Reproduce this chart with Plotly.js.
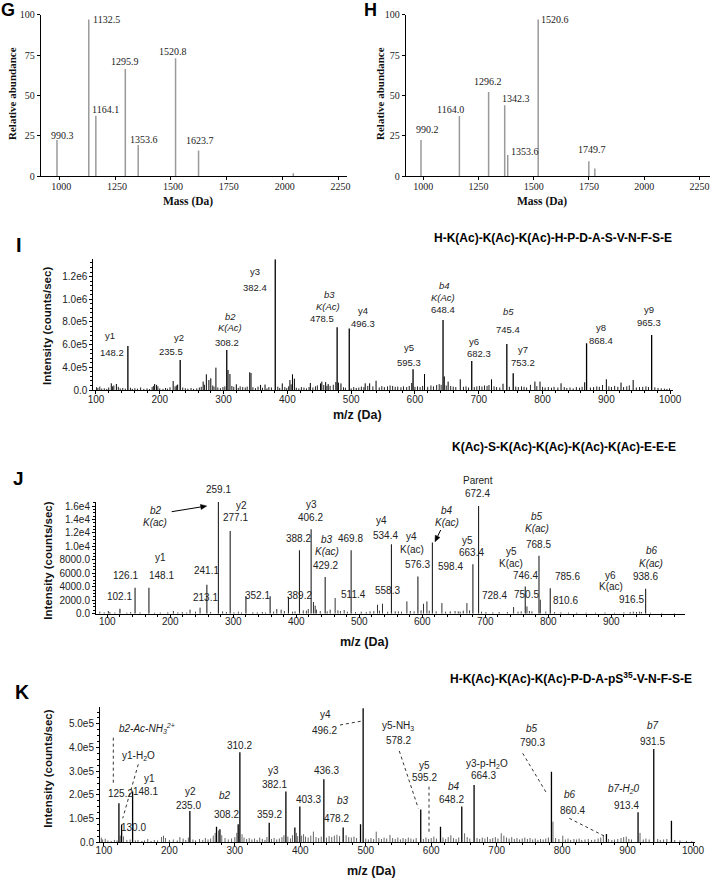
<!DOCTYPE html>
<html><head><meta charset="utf-8">
<script src="https://cdn.plot.ly/plotly-3.0.1.min.js"></script>
<style>html,body{margin:0;padding:0;background:#fff}#chart{width:713px;height:878px}</style>
</head><body><div id="chart"></div>
<script>
// ---------- DATA ----------
// Panel G (relative abundance vs mass)
const gMass = [990.3, 1132.5, 1164.1, 1295.9, 1353.6, 1520.8, 1623.7, 2047.6];
const gAbund = [22.5, 97.1, 37.5, 66.4, 19.4, 73.0, 15.9, 1.9];
const gLabels = ['990.3','1132.5','1164.1','1295.9','1353.6','1520.8','1623.7'];
// Panel H
const hMass = [990.2, 1164.0, 1296.2, 1369.0, 1382.6, 1520.6, 1749.7, 1776.8];
const hAbund = [22.5, 37.3, 52.2, 43.9, 13.2, 97.1, 9.3, 4.9];
const hLabels = ['990.2','1164.0','1296.2','1342.3','1353.6','1520.6','1749.7'];
const massTicks = [1000, 1250, 1500, 1750, 2000, 2250];
const abundTicks = [0, 25, 50, 75, 100];

// Panel I (labelled fragment peaks + minor peaks + baseline noise)
const iMz  = [150, 232, 305, 381, 478, 497, 597, 644, 689, 744, 754, 869, 971];
const iInt = [588e3, 464e3, 552e3, 1352e3, 752e3, 743e3, 382e3, 817e3, 456e3, 605e3, 347e3, 611e3, 685e3];
const iMinor = [[124,259e3],[132,253e3],[192,253e3],[195,245e3],[221,279e3],[228,248e3],[268,274e3],[273,338e3],[277,288e3],[280,303e3],[288,397e3],[307,376e3],[310,341e3],[320,250e3],[341,356e3],[343,350e3],[358,245e3],[365,248e3],[392,258e3],[404,288e3],[408,338e3],[411,300e3],[436,262e3],[452,258e3],[454,274e3],[460,270e3],[464,252e3],[476,270e3],[480,265e3],[484,258e3],[522,259e3],[529,259e3],[539,282e3],[595,262e3],[615,341e3],[646,320e3],[652,274e3],[671,294e3],[720,294e3],[738,255e3],[788,274e3],[796,274e3],[829,259e3],[866,268e3],[900,294e3],[923,265e3],[942,288e3]];
const iNoise = [[101,225e3],[103,218e3],[106,230e3],[109,212e3],[113,215e3],[117,210e3],[120,222e3],[126,232e3],[128,240e3],[135,228e3],[138,214e3],[142,218e3],[146,212e3],[154,220e3],[157,210e3],[161,216e3],[165,212e3],[170,222e3],[175,210e3],[180,214e3],[184,208e3],[188,226e3],[190,236e3],[197,232e3],[200,214e3],[205,210e3],[209,218e3],[212,212e3],[216,224e3],[224,232e3],[226,240e3],[236,222e3],[240,216e3],[244,212e3],[249,218e3],[253,210e3],[258,214e3],[262,222e3],[265,228e3],[270,246e3],[283,240e3],[285,230e3],[291,222e3],[295,216e3],[299,226e3],[302,232e3],[313,236e3],[316,228e3],[323,218e3],[326,232e3],[330,226e3],[334,222e3],[337,230e3],[346,224e3],[350,216e3],[354,230e3],[361,220e3],[368,214e3],[371,226e3],[375,222e3],[385,230e3],[388,218e3],[396,226e3],[399,216e3],[402,232e3],[406,250e3],[414,220e3],[418,214e3],[422,226e3],[426,222e3],[430,214e3],[434,226e3],[440,222e3],[444,232e3],[447,240e3],[457,244e3],[462,236e3],[467,236e3],[472,246e3],[488,224e3],[491,220e3],[500,214e3],[504,226e3],[508,218e3],[512,222e3],[516,230e3],[520,226e3],[526,236e3],[534,232e3],[544,222e3],[548,234e3],[552,226e3],[557,232e3],[561,240e3],[565,236e3],[569,228e3],[573,230e3],[578,224e3],[582,232e3],[587,226e3],[591,236e3],[600,228e3],[604,232e3],[608,226e3],[612,236e3],[620,228e3],[625,240e3],[629,232e3],[634,244e3],[638,252e3],[641,246e3],[649,240e3],[656,236e3],[660,230e3],[664,226e3],[676,228e3],[680,232e3],[684,222e3],[693,226e3],[697,232e3],[701,236e3],[705,230e3],[709,240e3],[713,236e3],[716,244e3],[724,232e3],[728,226e3],[733,222e3],[748,228e3],[758,230e3],[762,226e3],[767,232e3],[771,228e3],[775,222e3],[781,246e3],[791,234e3],[800,228e3],[804,222e3],[809,226e3],[814,220e3],[818,228e3],[824,222e3],[834,226e3],[838,218e3],[843,222e3],[848,214e3],[853,226e3],[858,220e3],[862,228e3],[875,222e3],[880,226e3],[885,232e3],[889,228e3],[894,244e3],[904,232e3],[908,226e3],[913,236e3],[918,228e3],[927,226e3],[932,232e3],[936,240e3],[947,222e3],[952,226e3],[957,228e3],[962,232e3],[966,226e3],[976,224e3],[981,218e3],[986,214e3],[991,212e3],[995,210e3],[999,214e3]];
const iYTickVals = [200e3, 400e3, 600e3, 800e3, 1000e3, 1200e3];
const iYTickText = ['0.0','4.0e5','6.0e5','8.0e5','1.0e6','1.2e6'];

// Panel J
const jMz  = [120, 144, 166, 258, 276.3, 295, 320, 358.4, 387.5, 405, 423.5, 445.8, 487, 551, 593, 616, 680.3, 689.3, 763.4, 785.2, 803.1, 954.5];
const jInt = [745, 3870, 3870, 4300, 16600, 12300, 2600, 2600, 2480, 9420, 12550, 5460, 9420, 10320, 5530, 10570, 7360, 16000, 4050, 8600, 3800, 3700];
const jMinor = [[101.6,400],[204.8,400],[231.3,600],[247.2,900],[369,700],[375.9,600],[427.2,1740],[429.9,1200],[453.7,600],[461.6,2330],[528.9,1330],[536.8,1480],[557,350],[575.5,1830],[601.9,1480],[607.3,1830],[631.1,1580],[644.3,350],[660,300],[665,450],[670.8,1580],[744.9,990],[766.1,1090],[787.3,2070],[940,250],[945,300]];
const jNoise = [[88,300],[95,200],[104,250],[112,180],[131,150],[137,250],[152,200],[175,150],[184,180],[196,220],[212,200],[219,250],[226,180],[240,300],[264,250],[283,350],[289,250],[301,200],[308,300],[313,180],[331,220],[338,200],[346,250],[351,180],[364,300],[381,400],[394,300],[398,350],[411,500],[416,450],[419,700],[432,600],[438,400],[449,350],[466,500],[470,400],[476,550],[481,300],[494,250],[503,300],[511,250],[517,350],[523,400],[532,450],[545,300],[562,350],[567,300],[581,400],[587,350],[598,500],[611,450],[622,350],[637,300],[652,400],[657,350],[675,500],[694,300],[701,250],[712,200],[722,250],[735,250],[752,300],[757,350],[770,400],[774,350],[796,300],[810,250],[820,200],[832,180],[845,150],[860,150],[875,150],[890,180],[905,150],[920,200],[930,250],[935,300],[948,250],[962,150],[980,120],[1000,100]];
const jYTickVals = [0, 2000, 4000, 6000, 8000, 10000, 12000, 14000, 16000];
const jYTickText = ['0.0','2000.0','4000.0','6000.0','8000.0','1.0e4','1.2e4','1.4e4','1.6e4'];

// Panel K
const kMz  = [122.9, 127, 143.8, 231.3, 272, 277.2, 305.1, 307.7, 352.5, 378, 391.7, 399.3, 436, 465.5, 492, 496, 584, 614.2, 646.7, 665.5, 783.7, 867.7, 916, 940, 967];
const kInt = [165e3, 75e3, 214e3, 132e3, 66e3, 55e3, 76e3, 380e3, 83e3, 214e3, 63e3, 151e3, 266e3, 63e3, 76e3, 566e3, 139e3, 66e3, 151e3, 242e3, 298e3, 35e3, 127e3, 394e3, 91e3];
const kNoise = [[96,20e3],[98,12e3],[102,15e3],[106,8e3],[111,6e3],[116,10e3],[120,8e3],[125,28e3],[130,25e3],[135,10e3],[140,12e3],[148,8e3],[152,10e3],[158,6e3],[162,8e3],[167,14e3],[172,6e3],[177,10e3],[182,8e3],[188,22e3],[191,28e3],[194,18e3],[200,10e3],[206,12e3],[212,8e3],[216,22e3],[221,16e3],[225,10e3],[229,20e3],[236,12e3],[240,8e3],[246,14e3],[251,10e3],[255,18e3],[259,12e3],[263,16e3],[267,28e3],[270,40e3],[275,50e3],[280,30e3],[285,18e3],[290,12e3],[295,16e3],[300,22e3],[303,40e3],[311,34e3],[314,20e3],[318,14e3],[322,18e3],[326,12e3],[330,16e3],[334,10e3],[338,20e3],[342,14e3],[346,10e3],[349,22e3],[356,14e3],[360,18e3],[364,12e3],[368,16e3],[372,22e3],[375,30e3],[381,24e3],[385,16e3],[388,30e3],[394,40e3],[396,26e3],[402,28e3],[405,34e3],[408,24e3],[412,20e3],[416,28e3],[420,45e3],[424,22e3],[428,18e3],[432,24e3],[440,20e3],[444,26e3],[448,22e3],[452,28e3],[456,32e3],[460,26e3],[470,30e3],[474,22e3],[478,20e3],[482,24e3],[486,18e3],[500,16e3],[504,12e3],[508,18e3],[512,14e3],[516,45e3],[520,18e3],[524,14e3],[528,20e3],[532,16e3],[537,31e3],[541,18e3],[545,14e3],[549,20e3],[553,12e3],[557,18e3],[561,14e3],[565,20e3],[569,16e3],[573,12e3],[577,18e3],[588,14e3],[592,20e3],[596,14e3],[600,18e3],[604,24e3],[608,16e3],[618,20e3],[622,14e3],[626,22e3],[630,30e3],[634,18e3],[638,14e3],[642,20e3],[651,38e3],[655,22e3],[659,16e3],[670,18e3],[674,14e3],[678,20e3],[682,16e3],[686,22e3],[690,14e3],[694,18e3],[698,22e3],[702,16e3],[707,38e3],[711,28e3],[715,20e3],[719,16e3],[723,22e3],[727,14e3],[731,18e3],[735,12e3],[739,16e3],[743,20e3],[747,14e3],[751,18e3],[755,12e3],[759,16e3],[763,10e3],[767,14e3],[771,12e3],[775,16e3],[779,20e3],[786,87e3],[790,18e3],[795,14e3],[801,28e3],[805,12e3],[809,16e3],[813,10e3],[818,14e3],[822,12e3],[826,16e3],[830,10e3],[835,12e3],[840,14e3],[845,10e3],[850,12e3],[855,16e3],[859,20e3],[863,31e3],[871,14e3],[876,10e3],[880,12e3],[885,14e3],[890,18e3],[894,22e3],[898,24e3],[902,14e3],[906,12e3],[919,40e3],[924,12e3],[928,16e3],[933,12e3],[946,14e3],[950,10e3],[955,12e3],[960,14e3],[972,10e3],[980,8e3],[990,6e3],[998,5e3]];
const kYTickVals = [0, 1e5, 2e5, 3e5, 4e5, 5e5];
const kYTickText = ['0.0','1.0e5','2.0e5','3.0e5','4.0e5','5.0e5'];
const mzTicks = [100,200,300,400,500,600,700,800,900,1000];
const mzTicksJ = [100,200,300,400,500,600,700,800,900];

const titleI = 'H-K(Ac)-K(Ac)-K(Ac)-H-P-D-A-S-V-N-F-S-E';
const titleJ = 'K(Ac)-S-K(Ac)-K(Ac)-K(Ac)-K(Ac)-E-E-E';
const titleK = 'H-K(Ac)-K(Ac)-K(Ac)-P-D-A-pS<sup>35</sup>-V-N-F-S-E';

// ---------- DRAWING ----------
const W = 713, H = 878;
const PX = x => x / W, PY = y => 1 - y / H;
const SANS = 'Liberation Sans, Arial, sans-serif';
const SERIF = 'Liberation Serif, Times New Roman, serif';

function stems(xs, ys) {
  const X = [], Y = [];
  for (let i = 0; i < xs.length; i++) { X.push(xs[i], xs[i], null); Y.push(0, ys[i], null); }
  return {X, Y};
}
function stemTrace(xs, ys, xa, ya, color, width) {
  const s = stems(xs, ys);
  return {type:'scatter', mode:'lines', x:s.X, y:s.Y, xaxis:xa, yaxis:ya,
          line:{color:color, width:width}, hoverinfo:'skip', showlegend:false};
}
const col = (arr, i) => arr.map(p => p[i]);

const traces = [
  stemTrace(gMass, gAbund, 'x', 'y', '#9a9a9a', 1.5),
  stemTrace(hMass, hAbund, 'x2', 'y2', '#9a9a9a', 1.5),
  stemTrace(col(iNoise,0), col(iNoise,1), 'x3', 'y3', '#222', 1),
  stemTrace(col(iMinor,0), col(iMinor,1), 'x3', 'y3', '#000', 1),
  stemTrace(iMz, iInt, 'x3', 'y3', '#000', 1.3),
  stemTrace(col(jNoise,0), col(jNoise,1), 'x4', 'y4', '#444', 1),
  stemTrace(col(jMinor,0), col(jMinor,1), 'x4', 'y4', '#333', 1),
  stemTrace(jMz, jInt, 'x4', 'y4', '#222', 1.1),
  stemTrace(col(kNoise,0), col(kNoise,1), 'x5', 'y5', '#666', 1),
  stemTrace(kMz, kInt, 'x5', 'y5', '#000', 1.3)
];

function ax(extra) {
  return Object.assign({showline:true, linecolor:'#000', linewidth:1, showgrid:false, zeroline:false,
    ticks:'outside', ticklen:3, tickwidth:1, tickcolor:'#000',
    tickfont:{family:SANS, size:10, color:'#222'}, fixedrange:true}, extra);
}
const serifTick = {family:SERIF, size:10, color:'#222'};
const minorX = {ticks:'outside', ticklen:2, tickcolor:'#000', tick0:0, dtick:20};

const layout = {
  width: W, height: H, margin:{l:0, r:0, t:0, b:0},
  paper_bgcolor:'#fff', plot_bgcolor:'rgba(0,0,0,0)', showlegend:false,
  xaxis: ax({anchor:'y', domain:[PX(40.7), PX(346.7)], range:[917.4, 2286.5], tickmode:'array', tickvals:massTicks, tickfont:serifTick, ticklabelshift:2, ticklabelstandoff:-2}),
  yaxis: ax({anchor:'x', domain:[PY(176.3), PY(14.7)], range:[0, 100], tickmode:'array', tickvals:abundTicks, tickfont:serifTick}),
  xaxis2: ax({anchor:'y2', domain:[PX(405.7), PX(710)], range:[921, 2298], tickmode:'array', tickvals:massTicks, tickfont:serifTick, ticklabelshift:4.5, ticklabelstandoff:-2}),
  yaxis2: ax({anchor:'x2', domain:[PY(176.3), PY(14.7)], range:[0, 100], tickmode:'array', tickvals:abundTicks, tickfont:serifTick}),
  xaxis3: ax({anchor:'y3', domain:[PX(93.3), PX(672.7)], range:[95.8, 1004], tickmode:'array', tickvals:mzTicks, minor:minorX, ticklabelstandoff:-3}),
  yaxis3: ax({anchor:'x3', domain:[PY(390), PY(259.3)], range:[200e3, 1352e3], tickmode:'array', tickvals:iYTickVals, ticktext:iYTickText, ticklabelshift:-2.7,
              minor:{ticks:'outside', ticklen:2, tickcolor:'#000', tick0:0, dtick:40e3}}),
  xaxis4: ax({anchor:'y4', domain:[PX(96), PX(685)], range:[82, 1017], tickmode:'array', tickvals:mzTicksJ, minor:minorX, ticklabelstandoff:-5}),
  yaxis4: ax({anchor:'x4', domain:[PY(613.7), PY(501.7)], range:[0, 16650], tickmode:'array', tickvals:jYTickVals, ticktext:jYTickText, ticklabelshift:-4.5,
              minor:{ticks:'outside', ticklen:2, tickcolor:'#000', tick0:0, dtick:500}}),
  xaxis5: ax({anchor:'y5', domain:[PX(100), PX(695)], range:[94, 1003], tickmode:'array', tickvals:mzTicks, minor:minorX, ticklabelstandoff:-4}),
  yaxis5: ax({anchor:'x5', domain:[PY(842.3), PY(707.3)], range:[0, 570e3], tickmode:'array', tickvals:kYTickVals, ticktext:kYTickText, ticklabelshift:-4.3,
              minor:{ticks:'outside', ticklen:2, tickcolor:'#000', tick0:0, dtick:25e3}}),
  annotations: [], shapes: []
};

function txt(text, x, y, font, extra) {
  return Object.assign({text:text, x:PX(x), y:PY(y), xref:'paper', yref:'paper', showarrow:false,
    xanchor:'center', yanchor:'middle', font:font, borderpad:0}, extra || {});
}
const fSerif = {family:SERIF, size:10, color:'#222'};
const fI = {family:SANS, size:9.5, color:'#222'};
const fJ = {family:SANS, size:10, color:'#222'};
const fTitle = {family:SANS, size:12, color:'#000', weight:'bold'};
const A = layout.annotations;
const S = layout.shapes;

// G / H peak labels
const gPos = [[62.3,135],[106.7,19],[105,109],[124.7,61.7],[143.7,139.3],[173,51.7],[199.7,140]];
gLabels.forEach((t,i) => A.push(txt(t, gPos[i][0], gPos[i][1], fSerif)));
const hPos = [[427.3,130],[450,109.3],[488.3,81.7],[516,98.3],[525,151],[555,20],[591.7,150]];
hLabels.forEach((t,i) => A.push(txt(t, hPos[i][0], hPos[i][1], fSerif)));
[[188.3,201.7],[541.7,201.7]].forEach(p => A.push(txt('<b>Mass (Da)</b>', p[0], p[1], {family:SERIF, size:11.5, color:'#111'})));
[[12,94],[380,94]].forEach(p => A.push(txt('<b>Relative abundance</b>', p[0], p[1], {family:SERIF, size:11, color:'#111'}, {textangle:-90})));

// panel letters
const fLet = s => ({family:SANS, size:s, color:'#000', weight:'bold'});
A.push(txt('<b>G</b>', 8, 10, fLet(18)));
A.push(txt('<b>H</b>', 370, 10, fLet(18)));
A.push(txt('<b>I</b>', 19, 245, fLet(20)));
A.push(txt('<b>J</b>', 18.3, 478.3, fLet(19)));
A.push(txt('<b>K</b>', 21.7, 691.7, fLet(19.5)));

// peptide titles
A.push(txt('<b>'+titleI+'</b>', 673, 237.7, fTitle, {xanchor:'right'}));
A.push(txt('<b>'+titleJ+'</b>', 677, 446.7, fTitle, {xanchor:'right'}));
A.push(txt('<b>'+titleK+'</b>', 693, 677.7, fTitle, {xanchor:'right'}));

// axis titles I/J/K
[[357,414.5],[364.5,642.3],[371.5,870.7]].forEach(p => A.push(txt('<b>m/z (Da)</b>', p[0], p[1], {family:SANS, size:12.5, color:'#111'})));
[[47.7,326.3],[47.7,561],[47.7,769]].forEach(p => A.push(txt('<b>Intensity (counts/sec)</b>', p[0], p[1], {family:SANS, size:11.5, color:'#111'}, {textangle:-90})));

// I labels
const iLab = [['y1',110,335],['148.2',111.7,352.7],['y2',179,337.7],['235.5',170.7,351.7],
 ['<i>b2</i>',230,316],['<i>K(Ac)</i>',230,327.7],['308.2',227.3,342.3],
 ['y3',255,271.7],['382.4',255,287.7],
 ['<i>b3</i>',329,294],['<i>K(Ac)</i>',328.3,306],['478.5',322.3,318.3],
 ['y4',362.5,310.7],['496.3',363.3,323.3],
 ['<i>b4</i>',444.3,285],['<i>K(Ac)</i>',443.3,297.7],['648.4',442.7,309],
 ['y5',409.3,347.3],['595.3',409.3,362.3],['y6',474,341.7],['682.3',479.3,353.3],
 ['<i>b5</i>',508.3,311.7],['745.4',508.3,330],['y7',522.7,350],['753.2',523.3,362.7],
 ['y8',600.7,327.3],['868.4',600.7,340.7],['y9',648.7,309.3],['965.3',649,322.3]];
iLab.forEach(l => A.push(txt(l[0], l[1], l[2], fI)));

// J labels
const jLab = [['259.1',218.3,489.3],['<i>b2</i>',155.7,510],['<i>K(ac)</i>',155,522.7],
 ['y2',241.7,505],['277.1',235.7,517.7],['y1',160,557.3],['148.1',161,575.7],
 ['126.1',125,575],['102.1',119.3,596.7],['241.1',206,570.7],['213.1',205,597.3],
 ['352.1',257.3,595.7],['y3',311.7,504.3],['406.2',310.7,517.3],['388.2',298.3,538.3],
 ['<i>b3</i>',327.3,539.3],['<i>K(ac)</i>',326.7,551],['429.2',325,565],
 ['469.8',350,538.3],['389.2',299.3,595.7],['511.4',353,594.3],
 ['y4',381.7,520],['534.4',385,535],['558.3',387.3,590],
 ['y4',411.7,536.7],['K(ac)',411.7,549.3],['576.3',417.7,564.3],
 ['<i>b4</i>',446.7,510.7],['<i>K(ac)</i>',446.7,522.7],['598.4',450,566],
 ['Parent',478.3,481],['672.4',477.7,493.3],['y5',467.3,540],['663.4',471.7,552.3],
 ['y5',511.7,551.7],['K(ac)',511,563.3],['746.4',525.7,575.3],['728.4',494,595.7],['750.5',526.7,594],
 ['<i>b5</i>',537.3,516],['<i>K(ac)</i>',536.7,528],['768.5',538.3,544],
 ['785.6',567.3,576.7],['810.6',565,600.7],['y6',610.7,575],['K(ac)',610.7,586.7],['916.5',631.7,599],
 ['<i>b6</i>',651.7,550.7],['<i>K(ac)</i>',651,563.3],['938.6',645,576.7]];
jLab.forEach(l => A.push(txt(l[0], l[1], l[2], fJ)));

// J arrows drawn as shapes (line + filled head)
function arrow(tx, ty, hx, hy) {
  const dx = hx - tx, dy = hy - ty, L = Math.hypot(dx, dy), ux = dx / L, uy = dy / L;
  const bx = hx - 6 * ux, by = hy - 6 * uy, nx = -uy, ny = ux;
  S.push({type:'line', xref:'paper', yref:'paper', x0:PX(tx), y0:PY(ty), x1:PX(bx), y1:PY(by), line:{color:'#000', width:1}});
  const p = [[hx,hy],[bx+2.6*nx,by+2.6*ny],[bx-2.6*nx,by-2.6*ny]];
  S.push({type:'path', xref:'paper', yref:'paper',
    path:'M'+p.map(q => PX(q[0])+','+PY(q[1])).join(' L')+' Z', fillcolor:'#000', line:{color:'#000', width:0.5}});
}
arrow(171.7, 511.7, 206.7, 506);
arrow(440.7, 530, 435, 541.7);

// K labels
const kLab = [['<i>b2-Ac-NH<sub>3</sub><sup>2+</sup></i>',146.7,728.3],['y1-H<sub>2</sub>O',138.3,755.7],
 ['y1',149,778.3],['148.1',145.7,791.7],['125.2',120,793.3],['130.0',133.3,827.7],
 ['y2',190,791.7],['235.0',188.3,805],['<i>b2</i>',225,795],['308.2',226.7,814.3],
 ['310.2',239.3,745.7],['y3',273.3,770.7],['382.1',274,784],['359.2',269.3,814.3],
 ['403.3',308.3,799.7],['436.3',326.7,770],['<i>b3</i>',343.3,800],['478.2',336.7,818.3],
 ['y4',325,714.3],['496.2',324,730],['y5-NH<sub>3</sub>',398.3,725.7],['578.2',398.3,740],
 ['y5',424,765.7],['595.2',424,777.7],['<i>b4</i>',454,786.7],['648.2',451.7,799],
 ['y3-p-H<sub>2</sub>O',487.3,764.3],['664.3',483.3,775.7],['<i>b5</i>',531.7,728.3],['790.3',532.7,742.3],
 ['<i>b6</i>',570,794.3],['860.4',572.7,810],['<i>b7-H<sub>2</sub>0</i>',624,789.3],['913.4',626.7,805],
 ['<i>b7</i>',653.3,725.7],['931.5',652.7,741]];
kLab.forEach(l => A.push(txt(l[0], l[1], l[2], fJ)));
// K dashed connectors
const kDash = [[113.3,737.7,113.3,785],[138.3,764.3,122.7,818.3],[340,725,362,721],[399.3,751,418.3,808.3],
 [429,786.7,429,834.3],[522.7,753.3,547.3,794.3],[569.3,818.3,606.7,837.3]];
kDash.forEach(d => S.push({type:'line', xref:'paper', yref:'paper',
  x0:PX(d[0]), y0:PY(d[1]), x1:PX(d[2]), y1:PY(d[3]), line:{color:'#333', width:1, dash:'dot'}}));

Plotly.newPlot('chart', traces, layout, {staticPlot:true, displayModeBar:false});
</script></body></html>
